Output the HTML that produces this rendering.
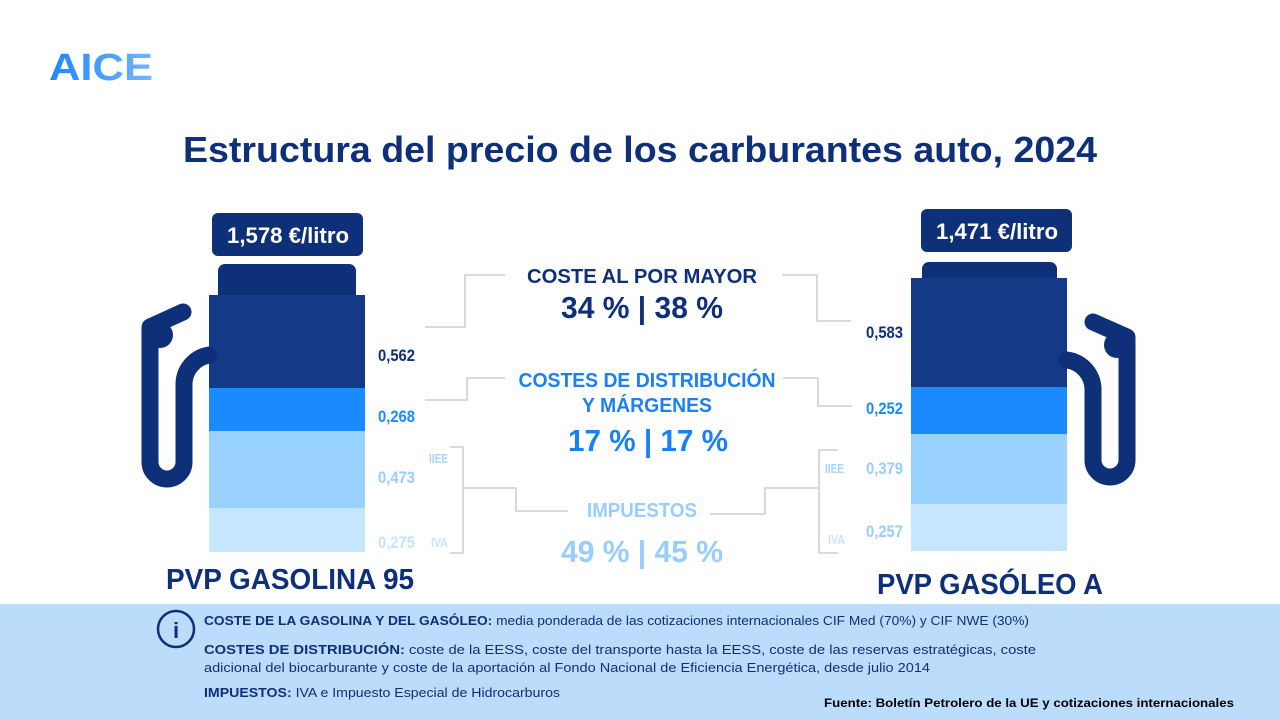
<!DOCTYPE html>
<html><head><meta charset="utf-8"><style>
body{margin:0;background:#fff}
svg{display:block}
text{font-family:"Liberation Sans",sans-serif}
</style></head><body>
<svg width="1280" height="720" viewBox="0 0 1280 720" xmlns="http://www.w3.org/2000/svg">
<rect width="1280" height="720" fill="#fff"/>
<defs><linearGradient id="lg" x1="0" x2="1"><stop offset="0" stop-color="#1f86ff"/><stop offset="1" stop-color="#74b6ff"/></linearGradient></defs>
<text x="49" y="80" font-size="38" font-weight="bold" fill="url(#lg)" textLength="104" lengthAdjust="spacingAndGlyphs">AICE</text>
<text x="640" y="162" font-size="36" font-weight="bold" fill="#0e2f7a" text-anchor="middle" textLength="914" lengthAdjust="spacingAndGlyphs">Estructura del precio de los carburantes auto, 2024</text>

<!-- left pump -->
<rect x="212" y="213" width="151" height="43" rx="6" fill="#0e3079"/>
<text x="288" y="243" font-size="22" font-weight="bold" fill="#fff" text-anchor="middle" textLength="122" lengthAdjust="spacingAndGlyphs">1,578 €/litro</text>
<rect x="218" y="264" width="138" height="40" rx="7" fill="#0e3079"/>
<rect x="209" y="295" width="156" height="93" fill="#133987"/>
<rect x="209" y="388" width="156" height="43" fill="#1a8aff"/>
<rect x="209" y="431" width="156" height="77" fill="#99d1ff"/>
<rect x="209" y="508" width="156" height="44" fill="#c6e5ff"/>
<path d="M183 312 L150 327 L150 462 A17 17 0 0 0 184 462 L184 385 A30 30 0 0 1 209 355" fill="none" stroke="#0e3079" stroke-width="17" stroke-linecap="round" stroke-linejoin="round"/>
<circle cx="160" cy="335" r="13" fill="#0e3079"/>

<!-- right pump -->
<rect x="921" y="209" width="151" height="43" rx="6" fill="#0e3079"/>
<text x="997" y="239" font-size="22" font-weight="bold" fill="#fff" text-anchor="middle" textLength="122" lengthAdjust="spacingAndGlyphs">1,471 €/litro</text>
<rect x="922" y="262" width="135" height="30" rx="7" fill="#0e3079"/>
<rect x="911" y="278" width="156" height="109" fill="#133987"/>
<rect x="911" y="387" width="156" height="47" fill="#1a8aff"/>
<rect x="911" y="434" width="156" height="70" fill="#99d1ff"/>
<rect x="911" y="504" width="156" height="47" fill="#c6e5ff"/>
<path d="M1093 322 L1127 337 L1127 460 A17 17 0 0 1 1093 460 L1093 388 A30 30 0 0 0 1067 360" fill="none" stroke="#0e3079" stroke-width="17" stroke-linecap="round" stroke-linejoin="round"/>
<circle cx="1117" cy="345" r="13" fill="#0e3079"/>

<!-- values -->
<g font-size="17" font-weight="bold">
<text x="378" y="361" fill="#0e2f7a" textLength="37" lengthAdjust="spacingAndGlyphs">0,562</text>
<text x="378" y="422" fill="#1a8aff" textLength="37" lengthAdjust="spacingAndGlyphs">0,268</text>
<text x="378" y="483" fill="#99ccff" textLength="37" lengthAdjust="spacingAndGlyphs">0,473</text>
<text x="378" y="548" fill="#c6e3ff" textLength="37" lengthAdjust="spacingAndGlyphs">0,275</text>
<text x="866" y="338" fill="#0e2f7a" textLength="37" lengthAdjust="spacingAndGlyphs">0,583</text>
<text x="866" y="414" fill="#1a8aff" textLength="37" lengthAdjust="spacingAndGlyphs">0,252</text>
<text x="866" y="474" fill="#99ccff" textLength="37" lengthAdjust="spacingAndGlyphs">0,379</text>
<text x="866" y="537" fill="#99ccff" textLength="37" lengthAdjust="spacingAndGlyphs">0,257</text>
</g>
<g font-size="13" font-weight="bold">
<text x="429" y="463" fill="#a8d3ff" textLength="19" lengthAdjust="spacingAndGlyphs">IIEE</text>
<text x="431" y="547" fill="#c6e3ff" textLength="17" lengthAdjust="spacingAndGlyphs">IVA</text>
<text x="825" y="473" fill="#a8d3ff" textLength="19" lengthAdjust="spacingAndGlyphs">IIEE</text>
<text x="828" y="544" fill="#c6e3ff" textLength="17" lengthAdjust="spacingAndGlyphs">IVA</text>
</g>

<!-- connectors -->
<g fill="none" stroke="#c4c4c4" stroke-width="1.3">
<path d="M425 327 H465 V275 H505"/>
<path d="M782 275 H817 V321 H851"/>
<path d="M425 400 H467 V378 H505"/>
<path d="M783 378 H818 V406 H852"/>
<path d="M450 447 H463 V553 H450 M463 488 H516 V511 H568"/>
<path d="M710 514 H765 V488 H819 M838 450 H819 V553 H838"/>
</g>

<!-- center texts -->
<g font-weight="bold" text-anchor="middle">
<text x="642" y="283" font-size="20" fill="#0e2f7a" textLength="230" lengthAdjust="spacingAndGlyphs">COSTE AL POR MAYOR</text>
<text x="642" y="318" font-size="31" fill="#0e2f7a" textLength="162" lengthAdjust="spacingAndGlyphs">34 % | 38 %</text>
<text x="647" y="387" font-size="20" fill="#1a80f5" textLength="257" lengthAdjust="spacingAndGlyphs">COSTES DE DISTRIBUCIÓN</text>
<text x="647" y="412" font-size="20" fill="#1a80f5" textLength="130" lengthAdjust="spacingAndGlyphs">Y MÁRGENES</text>
<text x="648" y="451" font-size="31" fill="#1a80f5" textLength="160" lengthAdjust="spacingAndGlyphs">17 % | 17 %</text>
<text x="642" y="517" font-size="20" fill="#99ccff" textLength="110" lengthAdjust="spacingAndGlyphs">IMPUESTOS</text>
<text x="642" y="562" font-size="31" fill="#99ccff" textLength="162" lengthAdjust="spacingAndGlyphs">49 % | 45 %</text>
</g>

<text x="290" y="589" font-size="29" font-weight="bold" fill="#0e2f7a" text-anchor="middle" textLength="248" lengthAdjust="spacingAndGlyphs">PVP GASOLINA 95</text>
<text x="990" y="594" font-size="29" font-weight="bold" fill="#0e2f7a" text-anchor="middle" textLength="226" lengthAdjust="spacingAndGlyphs">PVP GASÓLEO A</text>

<!-- footer -->
<rect x="0" y="604" width="1280" height="116" fill="#bcdcfc"/>
<circle cx="176" cy="629" r="18" fill="none" stroke="#0e2f7a" stroke-width="2.5"/>
<text x="176" y="638" font-size="22" font-weight="bold" fill="#0e2f7a" text-anchor="middle" font-family="Liberation Serif">i</text>
<g font-size="13" fill="#0e2f7a">
<text x="204" y="625" textLength="825" lengthAdjust="spacingAndGlyphs"><tspan font-weight="bold">COSTE DE LA GASOLINA Y DEL GASÓLEO:</tspan> media ponderada de las cotizaciones internacionales CIF Med (70%) y CIF NWE (30%)</text>
<text x="204" y="654" textLength="832" lengthAdjust="spacingAndGlyphs"><tspan font-weight="bold">COSTES DE DISTRIBUCIÓN:</tspan> coste de la EESS, coste del transporte hasta la EESS, coste de las reservas estratégicas, coste</text>
<text x="204" y="672" textLength="726" lengthAdjust="spacingAndGlyphs">adicional del biocarburante y coste de la aportación al Fondo Nacional de Eficiencia Energética, desde julio 2014</text>
<text x="204" y="697" textLength="356" lengthAdjust="spacingAndGlyphs"><tspan font-weight="bold">IMPUESTOS:</tspan> IVA e Impuesto Especial de Hidrocarburos</text>
</g>
<text x="824" y="707" font-size="12" font-weight="bold" fill="#000" textLength="410" lengthAdjust="spacingAndGlyphs">Fuente: Boletín Petrolero de la UE y cotizaciones internacionales</text>
</svg>
</body></html>
